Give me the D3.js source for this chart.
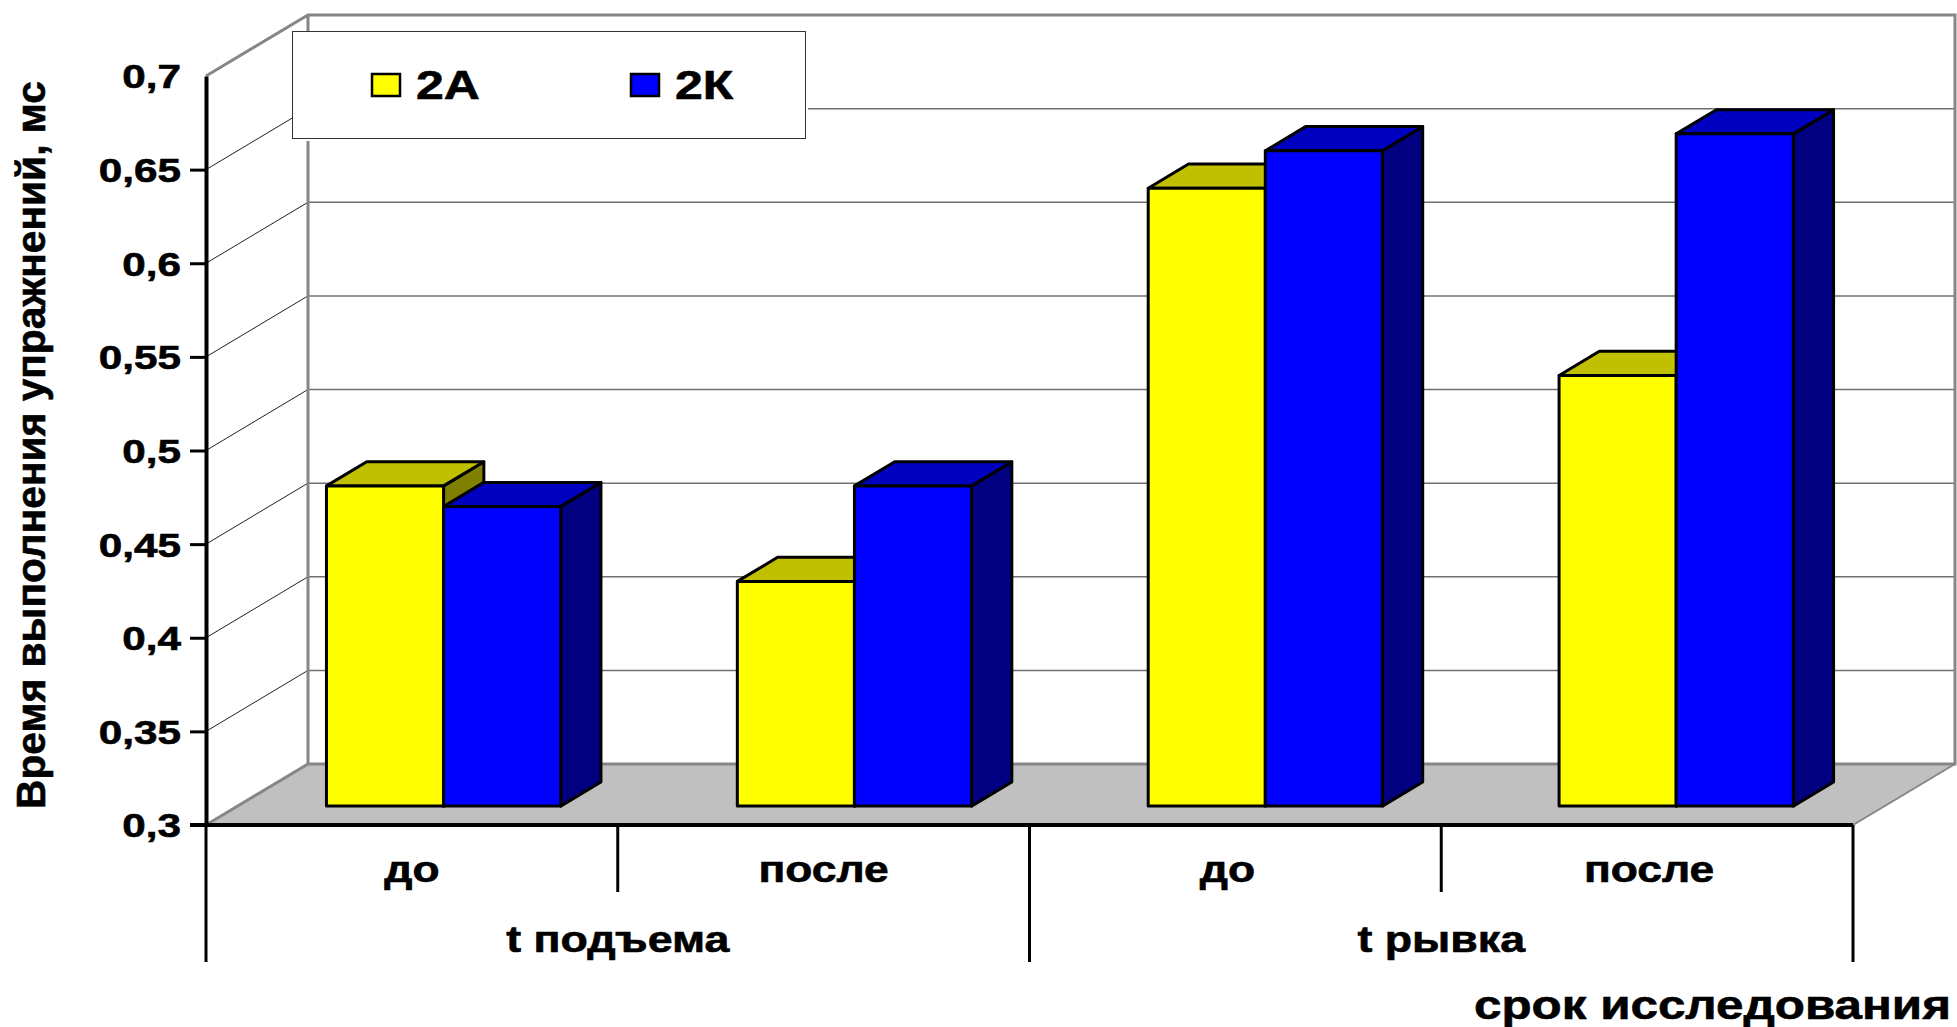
<!DOCTYPE html>
<html>
<head>
<meta charset="utf-8">
<script src="https://cdn.jsdelivr.net/npm/d3@7"></script>
<style>
  html, body { margin: 0; background: #fff; }
  svg { display: block; }
  text { font-family: "Liberation Sans", Arial, sans-serif; font-weight: bold; fill: #000; stroke: #000; stroke-width: 0.6px; }
</style>
</head>
<body>
<svg id="chart" width="1957" height="1027"></svg>
<script>
const conditions = ["до", "после", "до", "после"];
const groups = ["t подъема", "t рывка"];
const seriesNames = ["2А", "2К"];
const values2A = [0.471, 0.42, 0.63, 0.53];
const values2K = [0.46, 0.471, 0.65, 0.659];
const yTicks = [0.3, 0.35, 0.4, 0.45, 0.5, 0.55, 0.6, 0.65, 0.7];
const tickLabels = ["0,3", "0,35", "0,4", "0,45", "0,5", "0,55", "0,6", "0,65", "0,7"];

const svg = d3.select("#chart");

// front plane of the box, and the shift to its back wall
const plotLeft = 206, plotRight = 1853, plotBottom = 825, plotTop = 76;
const depthX = 102, depthY = -61;

const slots = d3.range(conditions.length);
const y = d3.scaleLinear().domain([0.3, 0.7]).range([plotBottom, plotTop]);
const x0 = d3.scaleBand().domain(slots).range([plotLeft + 0.5, plotRight - 3]).paddingInner(0.43).paddingOuter(0.215);
const x1 = d3.scaleBand().domain(seriesNames).range([0, x0.bandwidth()]);
const xOuter = d3.scaleBand().domain(slots).range([plotLeft, plotRight]);

// d = 0 is the front plane, d = 1 the back wall
const px = (x, d) => x + depthX * d;
const py = (v, d) => y(v) + depthY * d;
const poly = pts => d3.line()(pts) + "Z";

const grey = "#868686";

// floor
svg.append("path")
    .attr("d", poly([[plotLeft, plotBottom], [plotRight, plotBottom], [px(plotRight, 1), py(0.3, 1)], [px(plotLeft, 1), py(0.3, 1)]]))
    .attr("fill", "#c0c0c0");

// gridlines on back and side walls
const grid = svg.append("g");
yTicks.slice(1, -1).forEach(t => {
    grid.append("line")
        .attr("x1", px(plotLeft, 0)).attr("y1", py(t, 0))
        .attr("x2", px(plotLeft, 1)).attr("y2", py(t, 1))
        .attr("stroke", "#222").attr("stroke-width", 1);
    grid.append("line")
        .attr("x1", px(plotLeft, 1)).attr("y1", py(t, 1))
        .attr("x2", px(plotRight, 1)).attr("y2", py(t, 1))
        .attr("stroke", "#707070").attr("stroke-width", 1.5);
});

// wall outline
svg.append("path")
    .attr("d", d3.line()([[plotLeft, plotTop], [px(plotLeft, 1), py(0.7, 1)], [px(plotRight, 1), py(0.7, 1)], [px(plotRight, 1), py(0.3, 1)], [px(plotLeft, 1), py(0.3, 1)], [px(plotLeft, 1), py(0.7, 1)]]))
    .attr("fill", "none").attr("stroke", grey).attr("stroke-width", 3);
svg.append("path")
    .attr("d", d3.line()([[plotLeft, plotBottom], [px(plotLeft, 1), py(0.3, 1)]]))
    .attr("stroke", grey).attr("stroke-width", 3);
svg.append("path")
    .attr("d", d3.line()([[plotRight, plotBottom], [px(plotRight, 1), py(0.3, 1)]]))
    .attr("stroke", grey).attr("stroke-width", 2);

// bars
const d0 = 0.31, d1 = 0.705;
const palette = {
    "2А": { front: "#ffff00", top: "#c0c000", side: "#808000" },
    "2К": { front: "#0000ff", top: "#0000c0", side: "#000080" }
};
const seriesValues = { "2А": values2A, "2К": values2K };

const bars = svg.append("g")
    .attr("stroke", "#000").attr("stroke-width", 3).attr("stroke-linejoin", "round");

slots.forEach(i => {
    seriesNames.forEach(s => {
        const v = seriesValues[s][i];
        const a = x0(i) + x1(s), b = a + x1.bandwidth();
        const col = palette[s];
        bars.append("path")
            .attr("fill", col.side)
            .attr("d", poly([[px(b, d0), py(v, d0)], [px(b, d1), py(v, d1)], [px(b, d1), py(0.3, d1)], [px(b, d0), py(0.3, d0)]]));
        bars.append("path")
            .attr("fill", col.top)
            .attr("d", poly([[px(a, d0), py(v, d0)], [px(a, d1), py(v, d1)], [px(b, d1), py(v, d1)], [px(b, d0), py(v, d0)]]));
        bars.append("path")
            .attr("fill", col.front)
            .attr("d", poly([[px(a, d0), py(v, d0)], [px(b, d0), py(v, d0)], [px(b, d0), py(0.3, d0)], [px(a, d0), py(0.3, d0)]]));
    });
});

// value axis
const yAxis = svg.append("g")
    .attr("transform", `translate(${plotLeft},0)`)
    .call(d3.axisLeft(y).tickValues(yTicks).tickFormat((d, i) => tickLabels[i]).tickSize(16).tickSizeOuter(0));
yAxis.select(".domain").attr("stroke", "#000").attr("stroke-width", 4);
yAxis.selectAll(".tick line").attr("stroke", "#000").attr("stroke-width", 3)
    .filter(d => d === 0.7).remove();
yAxis.selectAll(".tick text")
    .attr("font-size", 33)
    .attr("text-anchor", "end")
    .attr("x", 0).attr("dy", "0.36em")
    .attr("transform", "translate(-25,0) scale(1.28,1)");

// category axis: baseline, dividers and two rows of labels
const axisGroup = svg.append("g").attr("stroke", "#000");
axisGroup.append("line")
    .attr("x1", plotLeft - 16).attr("x2", plotRight).attr("y1", plotBottom).attr("y2", plotBottom)
    .attr("stroke-width", 4);

const shortEnd = 892, longEnd = 962;
slots.forEach(i => {
    axisGroup.append("line")
        .attr("x1", xOuter(i)).attr("x2", xOuter(i))
        .attr("y1", plotBottom).attr("y2", i % 2 ? shortEnd : longEnd)
        .attr("stroke-width", 3);
});
axisGroup.append("line")
    .attr("x1", plotRight).attr("x2", plotRight).attr("y1", plotBottom).attr("y2", longEnd)
    .attr("stroke-width", 3);

// the lower labels do not sit quite on their band centres
const labelNudge = [0, 0, -8, 2];
svg.append("g").selectAll("text").data(conditions).join("text")
    .attr("text-anchor", "middle")
    .attr("font-size", 37)
    .attr("transform", (d, i) => `translate(${xOuter(i) + xOuter.bandwidth() / 2 + labelNudge[i]},882) scale(1.2,1)`)
    .text(d => d);

svg.append("g").selectAll("text").data(groups).join("text")
    .attr("text-anchor", "middle")
    .attr("font-size", 37)
    .attr("transform", (d, i) => `translate(${xOuter(i * 2 + 1)},952) scale(1.21,1)`)
    .text(d => d);

svg.append("text")
    .attr("x", 1951).attr("y", 1018.5)
    .attr("text-anchor", "end")
    .attr("font-size", 40)
    .attr("textLength", 477).attr("lengthAdjust", "spacingAndGlyphs")
    .text("срок исследования");

svg.append("text")
    .attr("transform", "translate(45,809) rotate(-90)")
    .attr("font-size", 41)
    .attr("textLength", 728).attr("lengthAdjust", "spacingAndGlyphs")
    .text("Время выполнения упражнений, мс");

// legend
const legend = svg.append("g");
legend.append("rect")
    .attr("x", 292).attr("y", 31).attr("width", 516).attr("height", 110)
    .attr("fill", "#fff");
legend.append("rect")
    .attr("x", 292.5).attr("y", 31.5).attr("width", 513).attr("height", 107)
    .attr("fill", "#fff").attr("stroke", "#333").attr("stroke-width", 1);

const legendX = d3.scalePoint().domain(seriesNames).range([372, 631]);
seriesNames.forEach(s => {
    legend.append("rect")
        .attr("x", legendX(s)).attr("y", 74).attr("width", 28).attr("height", 22)
        .attr("fill", palette[s].front).attr("stroke", "#000").attr("stroke-width", 2.5);
    legend.append("text")
        .attr("transform", `translate(${legendX(s) + 44},99) scale(1.25,1)`)
        .attr("font-size", 40)
        .text(s);
});
</script>
</body>
</html>
